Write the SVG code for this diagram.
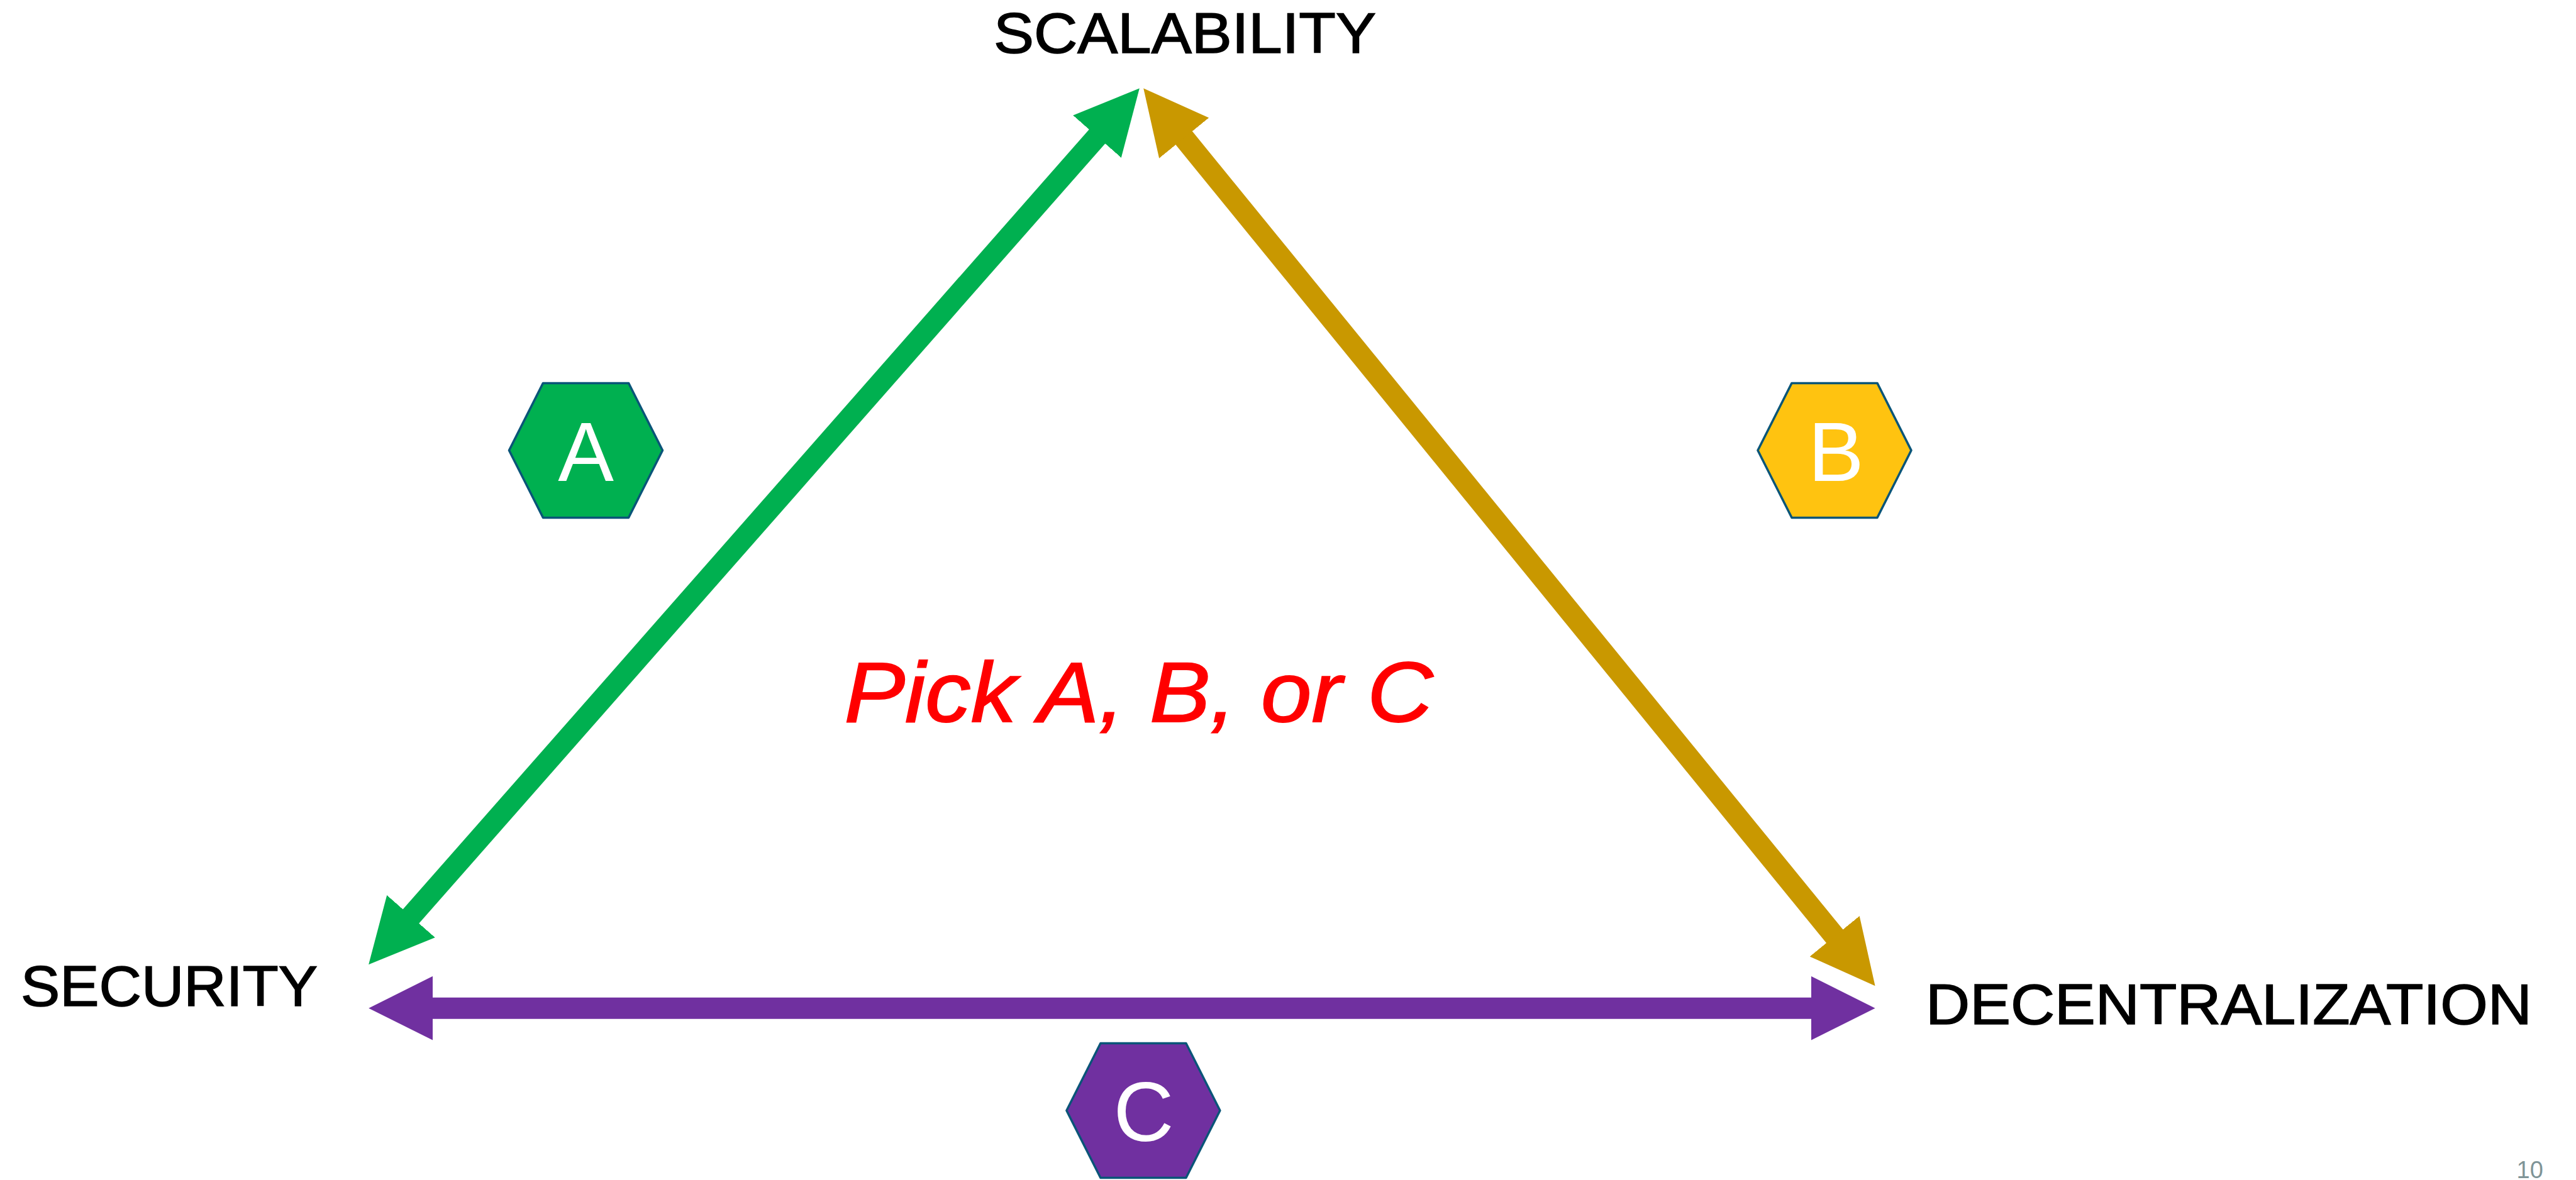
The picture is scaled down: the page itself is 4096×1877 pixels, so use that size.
<svg xmlns="http://www.w3.org/2000/svg" width="4096" height="1877" viewBox="0 0 4096 1877">
  <style>
    .label { font-family: "Liberation Sans", Arial, sans-serif; font-size: 91px; fill: #000000; stroke: #000000; stroke-width: 1.6; }
    .hex { stroke: #0A5578; stroke-width: 3.5; stroke-linejoin: round; }
    .hexletter { font-family: "Liberation Sans", Arial, sans-serif; font-size: 133px; fill: #FFFFFF; text-anchor: middle; }
    .conn { fill: none; stroke-width: 34; stroke-linecap: butt; }
  </style>
  <defs>
    <marker id="headGreen" viewBox="0 0 3 3" refX="0.0588" refY="1.5" markerUnits="strokeWidth" markerWidth="3" markerHeight="3" orient="auto-start-reverse">
      <path d="M0,0 L3,1.5 L0,3 Z" fill="#00B050"/>
    </marker>
    <marker id="headGold" viewBox="0 0 3 3" refX="0.0588" refY="1.5" markerUnits="strokeWidth" markerWidth="3" markerHeight="3" orient="auto-start-reverse">
      <path d="M0,0 L3,1.5 L0,3 Z" fill="#C99800"/>
    </marker>
    <marker id="headPurple" viewBox="0 0 3 3" refX="0.0588" refY="1.5" markerUnits="strokeWidth" markerWidth="3" markerHeight="3" orient="auto-start-reverse">
      <path d="M0,0 L3,1.5 L0,3 Z" fill="#7030A0"/>
    </marker>
    <polygon id="hexShape" points="-122,0 -68,-107 68,-107 122,0 68,107 -68,107"/>
  </defs>
  <rect x="0" y="0" width="4096" height="1877" fill="#FFFFFF"/>

  <g id="connectors">
    <path id="conn-security-scalability" class="conn" stroke="#00B050" d="M652.2,1459.1 L1745.8,215.7" marker-start="url(#headGreen)" marker-end="url(#headGreen)"/>
    <path id="conn-scalability-decentralization" class="conn" stroke="#C99800" d="M1881.4,218.1 L2918.4,1490.8" marker-start="url(#headGold)" marker-end="url(#headGold)"/>
    <path id="conn-security-decentralization" class="conn" stroke="#7030A0" d="M686.2,1603.7 L2881.6,1603.7" marker-start="url(#headPurple)" marker-end="url(#headPurple)"/>
  </g>

  <g id="node-scalability">
    <text class="label" x="1580" y="84.3" textLength="608" lengthAdjust="spacingAndGlyphs">SCALABILITY</text>
  </g>
  <g id="node-security">
    <text class="label" x="33" y="1600" textLength="472" lengthAdjust="spacingAndGlyphs">SECURITY</text>
  </g>
  <g id="node-decentralization">
    <text class="label" x="3062" y="1629" textLength="964" lengthAdjust="spacingAndGlyphs">DECENTRALIZATION</text>
  </g>

  <g id="hex-a" transform="translate(931.5,716.4)">
    <use href="#hexShape" class="hex" fill="#00B050"/>
    <text class="hexletter" x="0" y="48.4">A</text>
  </g>
  <g id="hex-b" transform="translate(2917,716.4)">
    <use href="#hexShape" class="hex" fill="#FFC310"/>
    <text class="hexletter" x="2.4" y="48.4">B</text>
  </g>
  <g id="hex-c" transform="translate(1817.9,1766.5)">
    <use href="#hexShape" class="hex" fill="#7030A0"/>
    <text class="hexletter" x="0.7" y="48">C</text>
  </g>

  <g id="center-label">
    <text x="1342.5" y="1148.2" font-family="'Liberation Sans', Arial, sans-serif" font-size="135" font-style="italic" fill="#FF0000" stroke="#FF0000" stroke-width="2" textLength="936" lengthAdjust="spacingAndGlyphs">Pick A, B, or C</text>
  </g>

  <g id="page-number">
    <text x="4001.5" y="1874" font-family="'Liberation Sans', Arial, sans-serif" font-size="38" fill="#7F9497">10</text>
  </g>
</svg>
